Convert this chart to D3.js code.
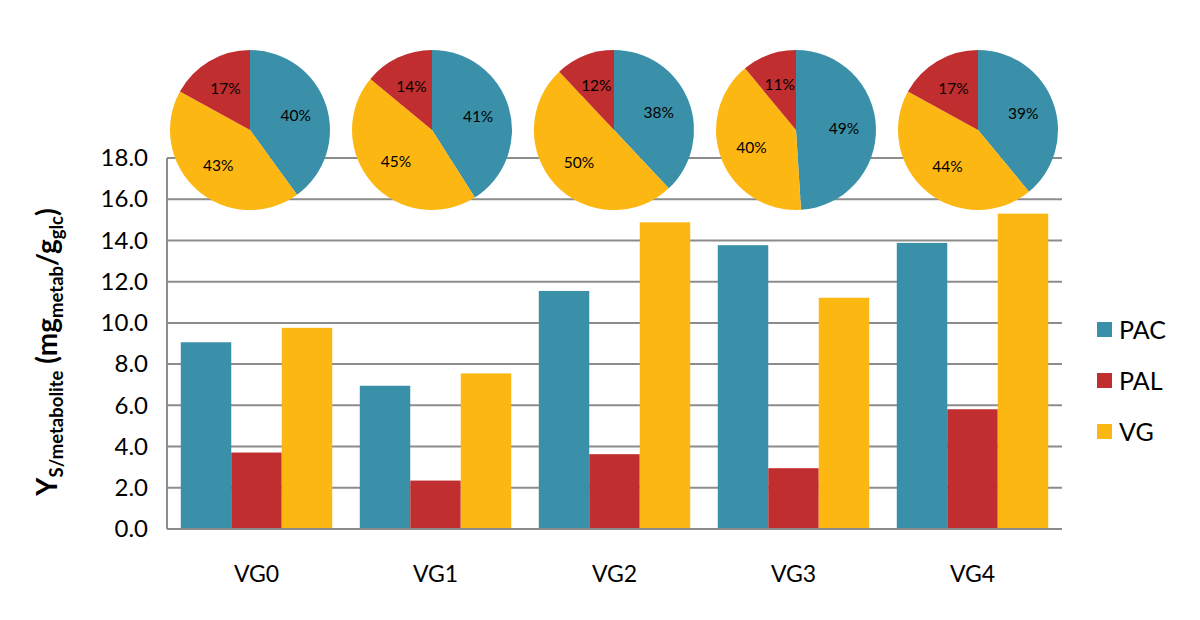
<!DOCTYPE html>
<html>
<head>
<meta charset="utf-8">
<script src="https://cdn.jsdelivr.net/npm/d3@7"></script>
<style>
  html, body { margin: 0; padding: 0; background: #fff; }
  svg { display: block; font-family: Lato, "Open Sans", sans-serif; }
</style>
</head>
<body>
<svg id="chart" width="1200" height="620"></svg>
<script>
// ---- data ----
const categories = ["VG0", "VG1", "VG2", "VG3", "VG4"];
const seriesNames = ["PAC", "PAL", "VG"];
const pacValues = [9.06, 6.95, 11.55, 13.77, 13.88];
const palValues = [3.71, 2.35, 3.63, 2.95, 5.81];
const vgValues  = [9.76, 7.55, 14.88, 11.22, 15.30];
// pie shares (%) as printed on the pies: PAC, VG, PAL order (clockwise from 12 o'clock)
const piePAC = [40, 41, 38, 49, 39];
const pieVG  = [43, 45, 50, 40, 44];
const piePAL = [17, 14, 12, 11, 17];
const yTicks = [0, 2, 4, 6, 8, 10, 12, 14, 16, 18];

const colors = { PAC: "#3a90a8", PAL: "#c12e2f", VG: "#fdb713" };

const svg = d3.select("#chart");
const plotLeft = 167, plotRight = 1062, plotTop = 158, plotBottom = 529;

const y = d3.scaleLinear().domain([0, 18]).range([plotBottom, plotTop]);
const x0 = d3.scaleBand().domain(categories).range([plotLeft, plotRight])
  .paddingInner(0.154).paddingOuter(0.077);
const x1 = d3.scaleBand().domain(seriesNames).range([0, x0.bandwidth()]).padding(0);

const gridColor = "#8c8c8c";

// gridlines
svg.append("g").selectAll("line").data(yTicks).join("line")
  .attr("x1", plotLeft).attr("x2", plotRight)
  .attr("y1", d => y(d)).attr("y2", d => y(d))
  .attr("stroke", gridColor).attr("stroke-width", 2);

// y axis line
svg.append("line")
  .attr("x1", plotLeft).attr("x2", plotLeft).attr("y1", y(18)).attr("y2", y(0))
  .attr("stroke", gridColor).attr("stroke-width", 2);

// y tick labels via axis
const yAxis = d3.axisLeft(y).tickValues(yTicks).tickFormat(d3.format(".1f")).tickSize(0).tickPadding(19);
const yg = svg.append("g").attr("transform", `translate(${plotLeft},0)`).call(yAxis);
yg.select(".domain").remove();
yg.selectAll("text").attr("font-size", 24).attr("fill", "#000")
  .attr("font-family", "Lato, 'Open Sans', sans-serif");

// bars
const rows = categories.map((c, i) => ({ cat: c, PAC: pacValues[i], PAL: palValues[i], VG: vgValues[i] }));
const groups = svg.append("g").selectAll("g").data(rows).join("g")
  .attr("transform", d => `translate(${x0(d.cat)},0)`);
groups.selectAll("rect").data(d => seriesNames.map(k => ({ key: k, value: d[k] }))).join("rect")
  .attr("x", d => x1(d.key)).attr("width", x1.bandwidth())
  .attr("y", d => y(d.value)).attr("height", d => y(0) - y(d.value))
  .attr("fill", d => colors[d.key]);

// x labels via axis
const xAxis = d3.axisBottom(x0).tickSize(0).tickPadding(37);
const xg = svg.append("g").attr("transform", `translate(0,${plotBottom})`).call(xAxis);
xg.select(".domain").remove();
xg.selectAll("text").attr("font-size", 23).attr("fill", "#000")
  .attr("font-family", "Lato, 'Open Sans', sans-serif");

// baseline redraw on top
svg.append("line").attr("x1", plotLeft).attr("x2", plotRight).attr("y1", y(0)).attr("y2", y(0))
  .attr("stroke", gridColor).attr("stroke-width", 2);

// pies
const pieX = d3.scalePoint().domain(categories).range([250, 978]);
const pieR = 80, pieCY = 130;
const pie = d3.pie().sort(null).value(d => d.value);
const arc = d3.arc().innerRadius(0).outerRadius(pieR);
const labelArc = d3.arc().innerRadius(pieR * 0.6).outerRadius(pieR * 0.6);

categories.forEach((c, i) => {
  const pd = [
    { key: "PAC", value: piePAC[i] },
    { key: "VG", value: pieVG[i] },
    { key: "PAL", value: piePAL[i] }
  ];
  const g = svg.append("g").attr("transform", `translate(${pieX(c)},${pieCY})`);
  const arcs = pie(pd);
  g.selectAll("path").data(arcs).join("path")
    .attr("d", arc).attr("fill", d => colors[d.data.key]);
  g.selectAll("text").data(arcs).join("text")
    .attr("transform", d => `translate(${labelArc.centroid(d)})`)
    .attr("text-anchor", "middle").attr("dy", "0.35em")
    .attr("font-size", 15.5).attr("fill", "#000")
    .text(d => d.data.value + "%");
});

// legend
const legend = svg.append("g").attr("transform", "translate(1097,322)");
seriesNames.forEach((k, i) => {
  const g = legend.append("g").attr("transform", `translate(0,${i * 51})`);
  g.append("rect").attr("width", 15).attr("height", 15).attr("fill", colors[k]);
  g.append("text").attr("x", 22).attr("y", 16.5).attr("font-size", 25).attr("fill", "#000").text(k);
});

// y title
const title = svg.append("text")
  .attr("transform", "translate(57,352) rotate(-90)")
  .attr("text-anchor", "middle").attr("font-weight", "bold").attr("font-size", 28).attr("fill", "#000");
title.append("tspan").text("Y");
title.append("tspan").attr("font-size", 18.5).attr("dy", 6).text("S/metabolite");
title.append("tspan").attr("dy", -6).text(" (mg");
title.append("tspan").attr("font-size", 18.5).attr("dy", 6).text("metab");
title.append("tspan").attr("dy", -6).text("/g");
title.append("tspan").attr("font-size", 18.5).attr("dy", 6).text("glc");
title.append("tspan").attr("dy", -6).text(")");
</script>
</body>
</html>
